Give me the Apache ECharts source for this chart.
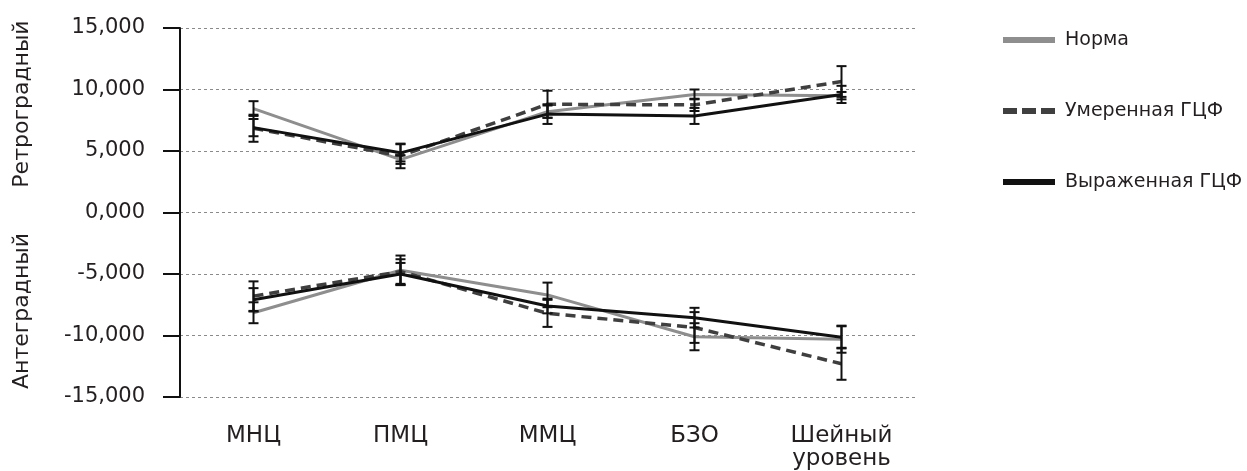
<!DOCTYPE html>
<html>
<head>
<meta charset="utf-8">
<script src="https://cdn.jsdelivr.net/npm/echarts@6/dist/echarts.min.js"></script>
<style>
  html, body { margin: 0; padding: 0; background: #fff; }
  #chart { width: 1247px; height: 471px; }
</style>
</head>
<body>
<div id="chart"></div>
<script>
// Категории по оси X
var categories = ["МНЦ", "ПМЦ", "ММЦ", "БЗО", "Шейный\nуровень"];
var seriesNames = ["Норма", "Умеренная ГЦФ", "Выраженная ГЦФ"];

// Ретроградный кровоток (верхняя группа)
var normaRetro = [8450, 4300, 8200, 9600, 9500];
var umerRetro = [6850, 4600, 8800, 8750, 10650];
var vyrRetro = [6900, 4850, 8000, 7850, 9600];

// Антеградный кровоток (нижняя группа)
var normaAnte = [-8150, -4700, -6700, -10100, -10300];
var umerAnte = [-6800, -4800, -8200, -9350, -12300];
var vyrAnte = [-7100, -5000, -7600, -8550, -10150];

// Полуширина погрешностей
var normaRetroErr = [600, 350, 500, 400, 300];
var umerRetroErr = [1100, 1000, 1100, 500, 1250];
var vyrRetroErr = [700, 700, 800, 650, 700];
var normaAnteErr = [850, 1200, 1000, 1100, 1100];
var umerAnteErr = [1200, 1000, 1100, 1250, 1300];
var vyrAnteErr = [950, 900, 600, 800, 900];

var fontFamily = "'DejaVu Sans', 'Liberation Sans', sans-serif";
var textColor = "#231f20";

var chartDom = document.getElementById("chart");
var myChart = echarts.init(chartDom);

function lineSeries(name, data, color, dashed) {
    return {
        name: name,
        type: "line",
        data: data,
        symbol: "none",
        z: 3,
        lineStyle: { width: dashed ? 3.5 : 3, color: color, type: dashed ? [10, 6] : "solid" },
        itemStyle: { color: color }
    };
}

// Строим данные для погрешностей: [индекс, низ, верх]
function errData(values, errs) {
    return values.map(function (v, i) {
        return [i, v - errs[i], v + errs[i]];
    });
}

function errorSeries(values, errs) {
    return {
        type: "custom",
        z: 4,
        silent: true,
        data: errData(values, errs),
        renderItem: function (params, api) {
            var low = api.coord([api.value(0), api.value(1)]);
            var high = api.coord([api.value(0), api.value(2)]);
            var half = 5;
            var style = { stroke: "#111", lineWidth: 2 };
            return {
                type: "group",
                children: [
                    { type: "line", shape: { x1: low[0], y1: low[1], x2: high[0], y2: high[1] }, style: style },
                    { type: "line", shape: { x1: low[0] - half, y1: low[1], x2: low[0] + half, y2: low[1] }, style: style },
                    { type: "line", shape: { x1: high[0] - half, y1: high[1], x2: high[0] + half, y2: high[1] }, style: style }
                ]
            };
        }
    };
}

var grayColor = "#8e8e8e";
var dashColor = "#3f3f3f";
var blackColor = "#111111";

var solidIcon = "path://M0,0H52V6H0Z";
var dashIcon = "path://M0,0H14V6H0Z M19,0H33V6H19Z M38,0H52V6H38Z";

var option = {
    backgroundColor: "#fff",
    animation: false,
    textStyle: { fontFamily: fontFamily },
    grid: { left: 180, right: 332, top: 28, bottom: 72 },
    legend: {
        data: [
            { name: seriesNames[0], icon: solidIcon },
            { name: seriesNames[1], icon: dashIcon },
            { name: seriesNames[2], icon: solidIcon }
        ],
        orient: "vertical",
        left: 998,
        top: 25,
        itemWidth: 52,
        itemHeight: 6,
        itemGap: 51,
        textStyle: { fontSize: 19, lineHeight: 20, color: textColor, fontFamily: fontFamily, padding: [0, 0, 0, 5] }
    },
    xAxis: {
        type: "category",
        data: categories,
        axisLine: { show: false },
        axisTick: { show: false },
        axisLabel: { color: textColor, fontSize: 23, margin: 28, lineHeight: 23, fontFamily: fontFamily }
    },
    yAxis: {
        type: "value",
        min: -15000,
        max: 15000,
        interval: 5000,
        axisLine: { show: true, lineStyle: { color: "#111", width: 2 } },
        axisTick: { show: true, length: 17, lineStyle: { color: "#111", width: 2 } },
        axisLabel: {
            color: textColor,
            fontSize: 21,
            margin: 35,
            fontFamily: fontFamily,
            formatter: function (v) {
                return (v < 0 ? "-" : "") + Math.abs(v / 1000) + ",000";
            }
        },
        splitLine: { show: true, lineStyle: { color: "#8a8a8a", type: [3, 3], width: 1 } }
    },
    graphic: [
        {
            type: "text",
            x: 22, y: 104, rotation: Math.PI / 2,
            style: { text: "Ретроградный", fill: textColor, font: "22px " + fontFamily, align: "center", verticalAlign: "middle" }
        },
        {
            type: "text",
            x: 22, y: 311, rotation: Math.PI / 2,
            style: { text: "Антеградный", fill: textColor, font: "22px " + fontFamily, align: "center", verticalAlign: "middle" }
        }
    ],
    series: [
        lineSeries(seriesNames[0], normaRetro, grayColor, false),
        lineSeries(seriesNames[1], umerRetro, dashColor, true),
        lineSeries(seriesNames[2], vyrRetro, blackColor, false),
        lineSeries(seriesNames[0], normaAnte, grayColor, false),
        lineSeries(seriesNames[1], umerAnte, dashColor, true),
        lineSeries(seriesNames[2], vyrAnte, blackColor, false),
        errorSeries(normaRetro, normaRetroErr),
        errorSeries(umerRetro, umerRetroErr),
        errorSeries(vyrRetro, vyrRetroErr),
        errorSeries(normaAnte, normaAnteErr),
        errorSeries(umerAnte, umerAnteErr),
        errorSeries(vyrAnte, vyrAnteErr)
    ]
};

myChart.setOption(option);
</script>
</body>
</html>
